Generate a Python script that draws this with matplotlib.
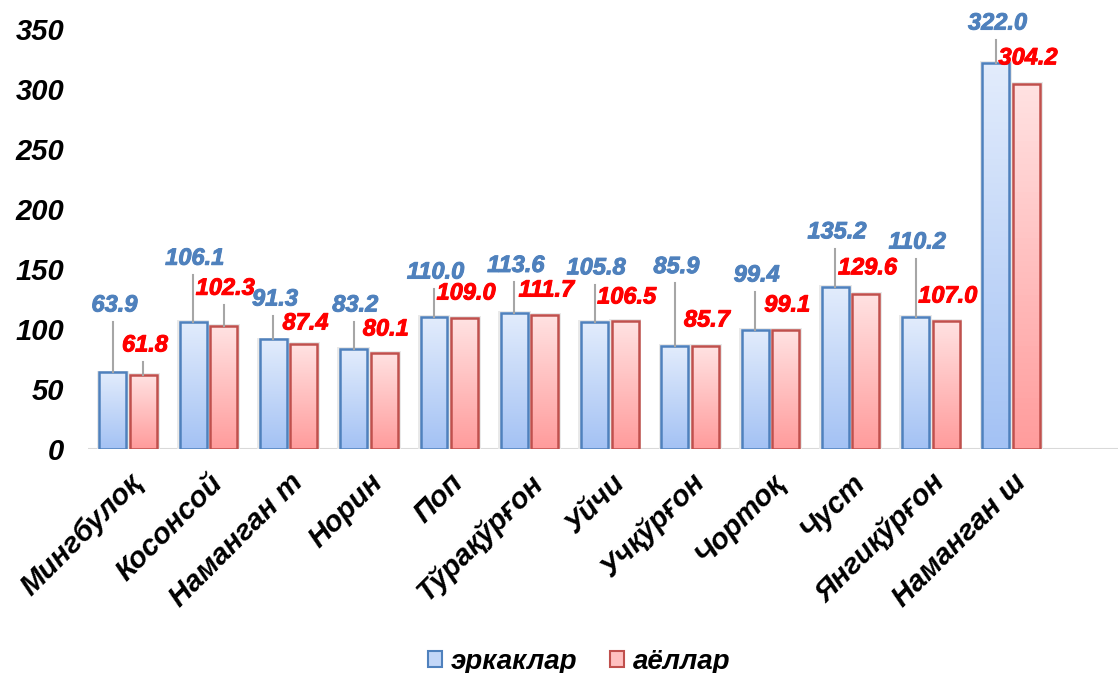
import numpy as np
import matplotlib
matplotlib.use("Agg")
import matplotlib.pyplot as plt
import matplotlib.patheffects as pe
from matplotlib.patches import Patch

districts = ["Мингбулоқ", "Косонсой", "Наманган т", "Норин", "Поп", "Тўрақўрғон",
             "Уйчи", "Учқўрғон", "Чортоқ", "Чуст", "Янгиқўрғон", "Наманган ш"]
men = [63.9, 106.1, 91.3, 83.2, 110.0, 113.6, 105.8, 85.9, 99.4, 135.2, 110.2, 322.0]
women = [61.8, 102.3, 87.4, 80.1, 109.0, 111.7, 106.5, 85.7, 99.1, 129.6, 107.0, 304.2]
series_names = ["эркаклар", "аёллар"]

# where the data labels sit (data units), as placed by hand in the original chart
men_label_y = [120, 159, 125, 120, 147.5, 153, 151, 152, 145, 181, 172.5, 355]
women_label_y = [86.7, 134, 105, 100, 130, 132.5, 126.7, 107.5, 120, 151, 127.5, 326]

plt.rcParams['font.family'] = ['Liberation Sans', 'DejaVu Sans']
plt.rcParams['font.weight'] = 'bold'
plt.rcParams['font.style'] = 'italic'


def gradient_bar(ax, x, w, h, top_col, bot_col, edge):
    grad = np.linspace(0, 1, 64).reshape(-1, 1)
    c1 = np.array(matplotlib.colors.to_rgb(top_col))
    c2 = np.array(matplotlib.colors.to_rgb(bot_col))
    img = c1[None, None, :] * (1 - grad[:, :, None]) + c2[None, None, :] * grad[:, :, None]
    # soft grey shadow
    ax.bar(x, h + 2.5, width=w + 0.07, bottom=-1, color='#e9e9e9', zorder=1, linewidth=0)
    ax.imshow(img, extent=(x - w / 2, x + w / 2, 0, h), origin='upper',
              aspect='auto', zorder=2)
    ax.bar(x, h, width=w, fill=False, edgecolor=edge, linewidth=1.8, zorder=3)


def main():
    fig = plt.figure(figsize=(11.18, 6.73), dpi=100)
    ax = fig.add_axes([0.0787, 0.3328, 0.9213, 0.624])
    x = np.arange(len(districts))
    w = 0.336
    off = 0.19

    for i in range(len(districts)):
        gradient_bar(ax, x[i] - off, w, men[i], '#e2ecfc', '#a4c2f4', '#4f81bd')
        gradient_bar(ax, x[i] + off, w, women[i], '#ffe2e2', '#ff9c9c', '#c0504d')

    for vals, ly, dx, col in [(men, men_label_y, -off, '#4f81bd'),
                              (women, women_label_y, off, '#ff0000')]:
        for i, v in enumerate(vals):
            ax.text(x[i] + dx + 0.02, ly[i], f"{v:.1f}", ha='center', va='center',
                    fontsize=17, fontweight='bold', fontstyle='italic',
                    color=col, clip_on=False, zorder=5,
                    path_effects=[pe.withStroke(linewidth=0.7, foreground=col)])
            top = ly[i] - 14
            if top - v > 8:
                ax.plot([x[i] + dx, x[i] + dx], [v, top], color='#a6a6a6',
                        lw=1.5, zorder=4, clip_on=False)

    ax.axhline(0, color='#d9d9d9', lw=1.5, zorder=0)
    ax.set_xlim(-0.5, 12.33)
    ax.set_ylim(0, 350)
    ax.set_yticks(range(0, 351, 50))
    ax.tick_params(axis='y', labelsize=21, length=0, pad=17)
    ax.set_xticks(x)
    ax.set_xticklabels(districts, rotation=45, ha='right', rotation_mode='anchor',
                       fontsize=21)
    ax.tick_params(axis='x', length=0, pad=14)
    for sp in ax.spines.values():
        sp.set_visible(False)

    handles = [Patch(facecolor='#c3d7f8', edgecolor='#4f81bd', lw=1.5),
               Patch(facecolor='#ffc0c0', edgecolor='#c0504d', lw=1.5)]
    fig.legend(handles, series_names, loc='lower center', ncol=2, frameon=False,
               bbox_to_anchor=(0.518, -0.04), fontsize=20, handlelength=0.5,
               handleheight=0.5, handletextpad=0.3, columnspacing=1.2)

    fig.savefig("out.png", dpi=100)


if __name__ == '__main__':
    main()
